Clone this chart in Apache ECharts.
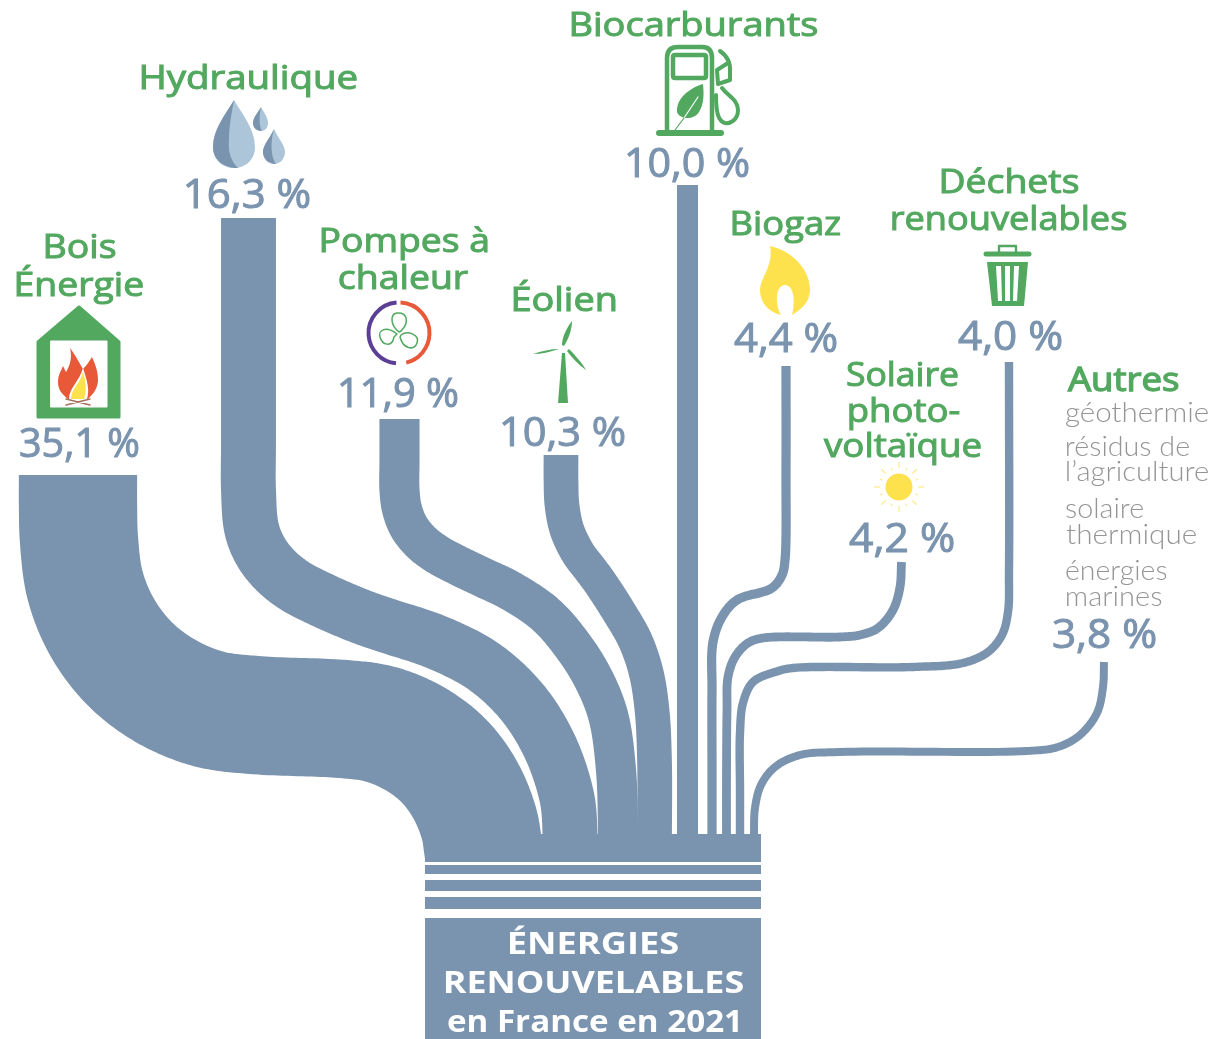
<!DOCTYPE html>
<html lang="fr">
<head>
<meta charset="utf-8">
<title>Énergies renouvelables en France en 2021</title>
<script src="https://cdn.jsdelivr.net/npm/echarts@6/dist/echarts.min.js"></script>
<style>html,body{margin:0;padding:0;background:#fff}#c{width:1213px;height:1039px}</style>
</head>
<body>
<div id="c"></div>
<script>
// ---- data -----------------------------------------------------------------
const sources = ['Bois Énergie','Hydraulique','Pompes à chaleur','Éolien','Biocarburants','Biogaz','Solaire photovoltaïque','Déchets renouvelables','Autres'];
const shares  = [35.1,16.3,11.9,10.3,10.0,4.4,4.2,4.0,3.8];
const otherSources = ['géothermie','résidus de','l’agriculture','solaire','thermique','énergies','marines'];
const sinkTitle = ['ÉNERGIES','RENOUVELABLES','en France en 2021'];

// ---- layout (axis units), kept apart from the values ----------------------
const W = 1213, H = 1039;
const BLUE = '#7a93ae', GREEN = '#52a85f', YELLOW = '#fde24d', ORANGE = '#e8593a';
const widthPerPoint = [3.37,3.37,3.37,3.37,2.1,2.1,2.1,2.1,2.1];
const routes = [
  [[78,475],[78,505],[79,540],[85,585],[102,627],[130,664],[166.5,691.5],[209,709],[254,715],[343,719],[379.5,724],[413.5,738],[443,760],[465,789.5],[479,823.5],[483.5,850]],
  [[248.5,218],[248.5,440],[248.5,490],[251.7,529],[261,552],[276,571],[295,586],[318,598],[340,608],[362,617],[385,625],[436,642],[483,666],[522,702],[550,747],[567,798],[570,833],[570,850]],
  [[399.5,419],[399.5,460],[399.5,490],[402,509],[409,527],[421,542],[436,553.6],[457,565],[482,577],[511,591],[545,614],[570,642],[592,676],[608,715],[616,770],[618,833],[618,850]],
  [[561,455],[561,480],[562,505],[567,530],[578,553],[590,569],[601,584],[619,612],[635,640],[646,672],[652,710],[654.5,760],[654.5,850]],
  [[687.5,185],[687.5,500],[687.5,850]],
  [[786,366],[786,470],[785,560],[782,575],[772,588],[737,600],[722,617],[713,642],[712,690],[712,770],[712,850]],
  [[901.5,562],[900,587],[893,610],[878,628],[860,635],[840,637],[763,638],[748,643],[735,657],[728,677],[727,710],[726.5,780],[726.5,850]],
  [[1009,362],[1009,570],[1008,612],[1002,635],[988,652],[963,663],[913,667],[793,668],[775,672],[753,682],[743,703],[740,733],[740,790],[740,850]],
  [[1104,662],[1103,687],[1097,713],[1080,735],[1058,747],[1027,751],[840,752],[800,755],[775,767],[761,785],[755,808],[754,833],[754,850]]
];
const sinkBands = [[834,862],[865,874],[880,891],[897,909],[918,1039]];
const sinkLeft = 425, sinkRight = 761;

// [text, ink left, ink right, baseline]
const titleBoxes = [
  ['Bois',46,115,258],['Énergie',17,143,296],
  ['Hydraulique',142,357,89],
  ['Biocarburants',572,817,36],
  ['Pompes à',322,488,252],['chaleur',339,468,289],
  ['Éolien',514,616,311],
  ['Biogaz',733,840,235],
  ['Déchets',942,1078,193],['renouvelables',892,1126,230],
  ['Solaire',847,958,386],['photo-',849,960,422],['voltaïque',824,981,457]
];
const autresBox = ['Autres',1068,1178,391];
const shareBoxes = [[20,139,457],[186,310,208],[340,458,407],[502,625,446],[627,749,177],[734,837,352],[849,954,552],[958,1062,350],[1053,1156,648]];
const otherBoxes = [[1066,1208,422],[1067,1189,456],[1067,1208,481],[1066,1143,518],[1066,1196,544],[1066,1167,580],[1067,1162,606]];
const sinkBoxes = [[509,678,954],[445,743,993],[448,738,1032]];

// ---- helpers ---------------------------------------------------------------
function sampleSpline(p) {
  const n = p.length, t = [0];
  for (let i = 1; i < n; i++) t[i] = t[i-1] + Math.sqrt(Math.hypot(p[i][0]-p[i-1][0], p[i][1]-p[i-1][1]));
  const m = p.map((q, i) => [0,1].map(k => {
    if (i === 0) return (p[1][k]-p[0][k])/(t[1]-t[0]);
    if (i === n-1) return (p[n-1][k]-p[n-2][k])/(t[n-1]-t[n-2]);
    const a = t[i]-t[i-1], b = t[i+1]-t[i];
    return (p[i][k]-p[i-1][k])/a - (p[i+1][k]-p[i-1][k])/(a+b) + (p[i+1][k]-p[i][k])/b;
  }));
  const out = [];
  for (let i = 0; i < n-1; i++) {
    const dt = t[i+1]-t[i];
    for (let j = 0; j < 20; j++) {
      const s = j/20, s2 = s*s, s3 = s2*s;
      out.push([0,1].map(k => (2*s3-3*s2+1)*p[i][k] + (s3-2*s2+s)*dt*m[i][k] + (-2*s3+3*s2)*p[i+1][k] + (s3-s2)*dt*m[i+1][k]));
    }
  }
  out.push(p[n-1]);
  return out;
}
function ribbonOutline(route, w) {
  const c = sampleSpline(route), L = [], R = [];
  c.forEach((q, i) => {
    const a = c[Math.max(i-1,0)], b = c[Math.min(i+1,c.length-1)];
    const dx = b[0]-a[0], dy = b[1]-a[1], d = Math.hypot(dx,dy) || 1;
    const nx = -dy/d*w/2, ny = dx/d*w/2;
    L.push([q[0]+nx,q[1]+ny]); R.push([q[0]-nx,q[1]-ny]);
  });
  return L.concat(R.reverse());
}
const mctx = document.createElement('canvas').getContext('2d');
function fitText(api, text, x0, x1, base, font, fill, bold) {
  mctx.font = font;
  mctx.textAlign = 'left';
  mctx.textBaseline = 'middle';
  const m = mctx.measureText(text);
  const ink = m.actualBoundingBoxLeft + m.actualBoundingBoxRight;
  const off = mctx.measureText('H').actualBoundingBoxDescent;
  const s = (x1-x0)/ink;
  const a = api.coord([x0, base]);
  const style = { text, font, fill, align:'left', verticalAlign:'middle' };
  if (bold) { style.stroke = fill; style.lineWidth = bold; }
  return { type:'text', x:a[0]+m.actualBoundingBoxLeft*s, y:a[1]-off, scaleX:s, silent:true, style };
}
const fullBox = 'M0 0L0 0M'+W+' '+H+'L'+W+' '+H+' ';
function icon(d, style) {
  return { type:'path', silent:true, shape:{ pathData: fullBox+d, x:0, y:0, width:W, height:H, layout:'cover' }, style };
}
function fillIcon(d, c){ return icon(d,{fill:c}); }
function strokeIcon(d, c, w){ return icon(d,{fill:'none',stroke:c,lineWidth:w,lineCap:'round',lineJoin:'round'}); }

function iconChildren() {
  const kids = [
    // house and fire
    icon('M79 307L38 342L38 417L119 417L119 342Z',{fill:GREEN,stroke:GREEN,lineWidth:3,lineJoin:'round'}),
    strokeIcon('M51 341L107 341L107 407L51 407Z','#fff',1),
    fillIcon('M51 341L107 341L107 407L51 407Z','#fff'),
    fillIcon('M70 348C76 356 80 364 83 369C86 366 89 362 92 357C96 366 98 372 98 381C97 390 93 394 88 399L68 399C62 394 58 390 58 382C58 375 61 371 63 366L66 372C71 364 72 356 70 348Z',ORANGE),
    fillIcon('M83 368C87 380 90 390 87 399L69 399C69 388 79 382 83 368Z','#fff'),
    fillIcon('M83 372C86 382 87 391 84 399L71 399C71 389 80 384 83 372Z',YELLOW),
    strokeIcon('M66 399L90 405M90 399L66 405','#a6705a',1.5),
    // drops
    fillIcon('M234 100C225 115 213 130 213 147C213 160 223 168 234 168C245 168 255 160 255 147C255 130 243 115 234 100Z','#adc5d8'),
    fillIcon('M234 100C225 115 213 130 213 147C213 160 224 168 238 168C230 160 228 150 229 140C229 125 232 112 234 100Z',BLUE),
    fillIcon('M261 107C257 114 253 118 253 123C253 128 257 131 261 131C265 131 268 128 268 123C268 118 265 114 261 107Z','#adc5d8'),
    fillIcon('M261 107C257 114 253 118 253 123C253 128 257 131 262 131C259 126 259 116 261 107Z',BLUE),
    fillIcon('M274 129C270 138 263 145 263 152C263 159 268 164 274 164C280 164 285 159 285 152C285 145 278 138 274 129Z','#adc5d8'),
    fillIcon('M274 129C270 138 263 145 263 152C263 159 269 164 276 164C271 158 270 142 274 129Z',BLUE),
    // fuel pump
    strokeIcon('M659 133L721 133',GREEN,6),
    strokeIcon('M667 131L667 58Q667 47 678 47L702 47Q712 47 712 58L712 131',GREEN,4.5),
    strokeIcon('M675 55L704 55Q706 55 706 57L706 76Q706 78 704 78L675 78Q673 78 673 76L673 57Q673 55 675 55Z',GREEN,4.5),
    fillIcon('M703 84C690 88 676 98 677 112C680 120 694 120 699 112C704 104 704 94 703 84Z',GREEN),
    strokeIcon('M684 118L698 97','#fff',1.2),
    strokeIcon('M684 118L675 130',GREEN,1.2),
    strokeIcon('M720 51C727 56 731 62 730 72L730 80L718 84L717 70L728 63',GREEN,4),
    strokeIcon('M722 88C728 96 738 100 738 110C738 120 730 124 725 123C718 121 716 112 716 95',GREEN,4),
    // turbine
    fillIcon('M562 353L565 353L568 403L558 403Z',GREEN),
    fillIcon('M562 345C562 336 568 326 572 321C572 330 568 340 564 346Z',GREEN),
    fillIcon('M559 349C550 352 541 354 533 354C541 351 551 349 559 349Z',GREEN),
    fillIcon('M569 349C575 355 582 363 586 370C579 365 572 358 567 351Z',GREEN),
    // fan
    strokeIcon('M399 332C390 325 390 314 397 313C407 312 410 322 401 331Z',GREEN,1.5),
    strokeIcon('M401 335C408 330 420 335 417 343C414 351 403 349 400 337Z',GREEN,1.5),
    strokeIcon('M397 334C385 325 378 331 380 337C382 345 392 348 394 337Z',GREEN,1.5),
    // biogas flame
    fillIcon('M770 246C790 250 810 268 810 290C810 303 800 310 792 315C795 305 795 285 785 285C775 285 775 305 781 315C768 312 760 302 760 290C760 278 774 265 770 246Z',YELLOW),
    // bin
    strokeIcon('M999 252L999 246L1016 246L1016 252',GREEN,2.4),
    strokeIcon('M986 254L1029 254',GREEN,5),
    fillIcon('M987 262L1028 262L1024 306L992 306Z',GREEN),
    fillIcon('M996 266L1001 266L1002 301L998 301Z','#fff'),
    fillIcon('M1005 266L1010 266L1010 301L1005 301Z','#fff'),
    fillIcon('M1014 266L1019 266L1017 301L1013 301Z','#fff')
  ];
  kids.push({ type:'arc', silent:true, shape:{cx:399,cy:333,r:30.5,startAngle:-Math.PI/2-0.08,endAngle:Math.PI/2+0.1,clockwise:false}, style:{fill:'none',stroke:'#5b3e96',lineWidth:4} });
  kids.push({ type:'arc', silent:true, shape:{cx:399,cy:333,r:30.5,startAngle:-Math.PI/2+0.05,endAngle:Math.PI/2-0.24,clockwise:true}, style:{fill:'none',stroke:ORANGE,lineWidth:4} });
  // sun
  kids.push({ type:'circle', silent:true, shape:{cx:899,cy:487,r:13.5}, style:{fill:YELLOW} });
  for (let i = 0; i < 16; i++) {
    const a = i*Math.PI/8, r0 = i%2 ? 18 : 19, r1 = i%2 ? 20.5 : 25;
    kids.push({ type:'line', silent:true, shape:{x1:899+r0*Math.cos(a),y1:487+r0*Math.sin(a),x2:899+r1*Math.cos(a),y2:487+r1*Math.sin(a)},
      style:{stroke:'#fdeb94',lineWidth:1.3} });
  }
  return kids;
}

const labelFont = '400 32px "Open Sans"';
const shareFont = '400 40px "Open Sans"';
const thinFont  = '300 27px "Lato"';
const sinkFont  = '700 31px "Open Sans"';
const fmt = v => v.toFixed(1).replace('.',',') + ' %';

const chart = echarts.init(document.getElementById('c'), null, { renderer:'canvas', width:W, height:H });
chart.setOption({
  animation:false,
  backgroundColor:'#fff',
  tooltip:{show:false},
  grid:{left:0,right:0,top:0,bottom:0,containLabel:false},
  xAxis:{type:'value',min:0,max:W,show:false},
  yAxis:{type:'value',min:0,max:H,inverse:true,show:false},
  series:[
    { // flows
      type:'custom', name:'flows', coordinateSystem:'cartesian2d', clip:false, silent:true, z:2,
      encode:{x:1,y:1},
      data:shares.map((v,i)=>[i,v]),
      renderItem(params, api){
        const i = api.value(0), v = api.value(1);
        const w = api.size([v*widthPerPoint[i],0])[0];
        return { type:'polygon', silent:true,
          shape:{ points: ribbonOutline(routes[i], w).map(p=>api.coord(p)) },
          style:{ fill:BLUE } };
      }
    },
    { // sink column
      type:'custom', name:'total', coordinateSystem:'cartesian2d', clip:false, silent:true, z:3,
      encode:{x:0,y:1},
      data:sinkBands,
      renderItem(params, api){
        const a = api.coord([sinkLeft, api.value(0)]), b = api.coord([sinkRight, api.value(1)]);
        return { type:'rect', silent:true, shape:{x:a[0],y:a[1],width:b[0]-a[0],height:b[1]-a[1]}, style:{fill:BLUE} };
      }
    },
    { // icons and texts
      type:'custom', name:'labels', coordinateSystem:'cartesian2d', clip:false, silent:true, z:4,
      encode:{x:0,y:1},
      data:[[0,0]],
      renderItem(params, api){
        const kids = iconChildren();
        titleBoxes.forEach(b=>kids.push(fitText(api,b[0],b[1],b[2],b[3],labelFont,GREEN,1)));
        kids.push(fitText(api,autresBox[0],autresBox[1],autresBox[2],autresBox[3],labelFont,GREEN,1.3));
        shares.forEach((v,i)=>{const b=shareBoxes[i];kids.push(fitText(api,fmt(v),b[0],b[1],b[2],shareFont,BLUE,1));});
        otherSources.forEach((t,i)=>{const b=otherBoxes[i];kids.push(fitText(api,t,b[0],b[1],b[2],thinFont,'#959595'));});
        sinkTitle.forEach((t,i)=>{const b=sinkBoxes[i];kids.push(fitText(api,t,b[0],b[1],b[2],sinkFont,'#fff'));});
        return { type:'group', children:kids };
      }
    }
  ]
});
</script>
</body>
</html>
